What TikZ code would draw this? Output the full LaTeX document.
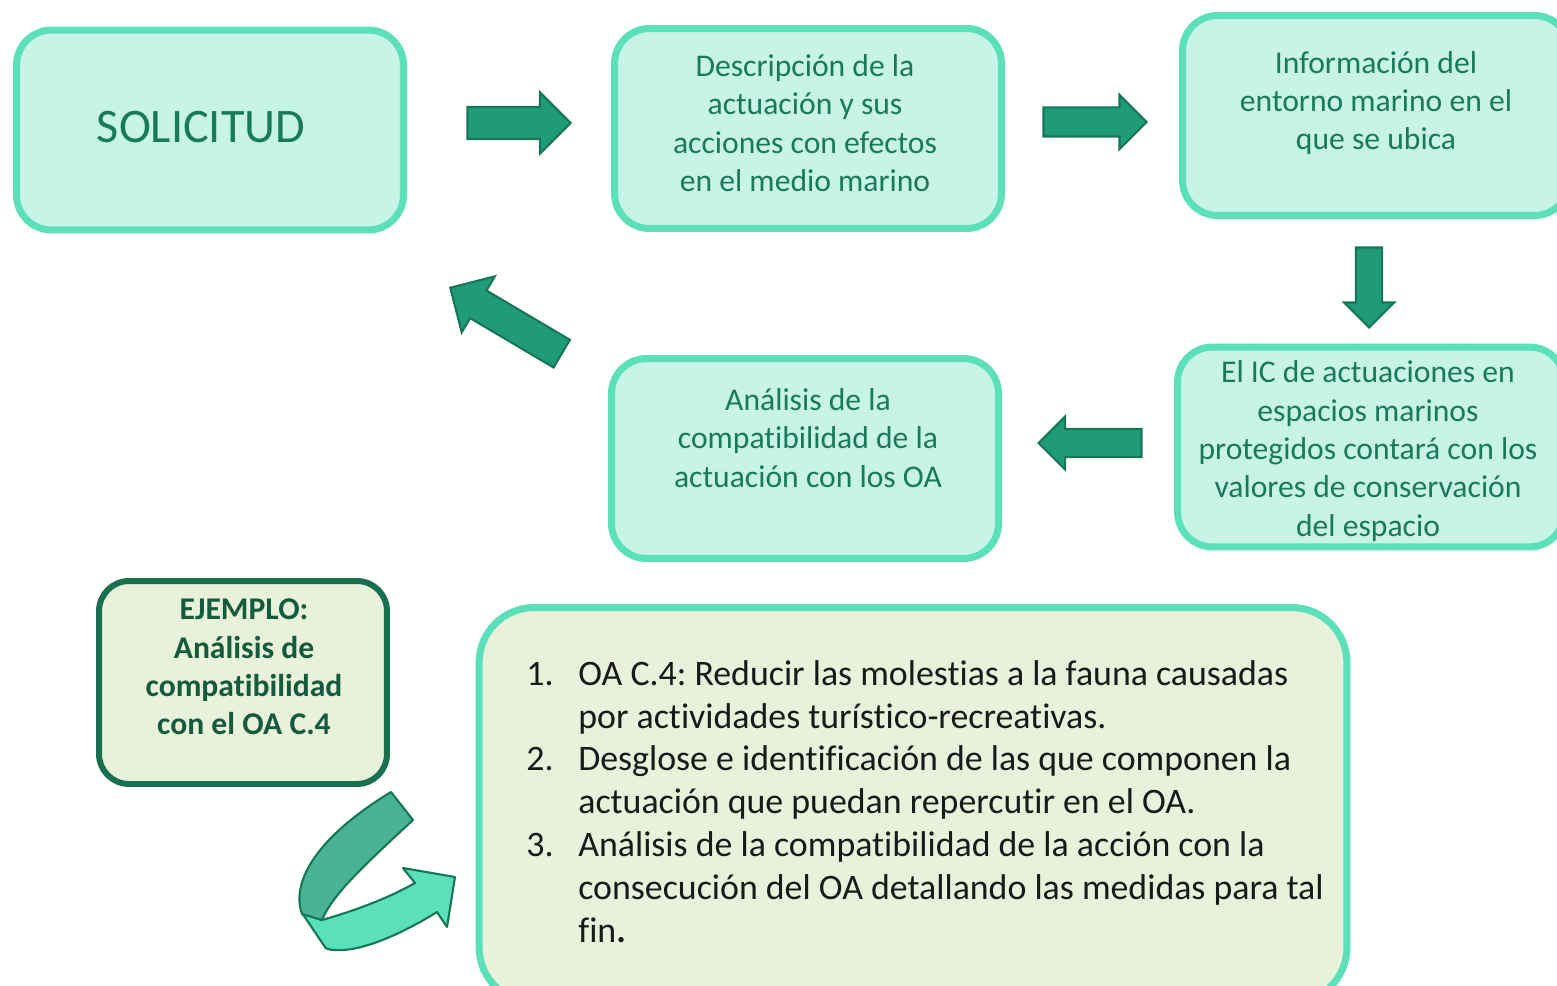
\documentclass[tikz,border=0pt]{standalone}
\usepackage{fontspec}
\setmainfont{Carlito}[Ligatures=NoCommon]
\usepackage{xcolor}
\usetikzlibrary{shapes.arrows, positioning}
\definecolor{BoxLine}{HTML}{5CE0BA}
\definecolor{BoxFill}{HTML}{C7F4E6}
\definecolor{TextGreen}{HTML}{187A5A}
\definecolor{ArrowFill}{HTML}{1F9B78}
\definecolor{ArrowLine}{HTML}{17765A}
\definecolor{ExLine}{HTML}{18704F}
\definecolor{ExFill}{HTML}{E8F2DA}
\definecolor{ExText}{HTML}{145A3C}
\definecolor{TurnDark}{HTML}{48B494}
\frenchspacing

\begin{document}
\begin{tikzpicture}[x=0.02cm, y=-0.02cm,
    box/.style={
      rounded corners=0.7cm, minimum width=7.74cm, minimum height=4.0cm,
      line width=4pt, draw=BoxLine, fill=BoxFill, inner sep=0pt
    },
    boxtext/.style={align=center, text=TextGreen, font=\fontsize{18}{21.8}\selectfont},
    flow/.style={
      single arrow, draw=ArrowLine, fill=ArrowFill, line width=1.2pt, anchor=tip,
      inner xsep=0pt, inner ysep=0.3cm, minimum height=2.06cm, minimum width=1.18cm,
      single arrow head extend=0.29cm
    }
  ]
    \useasboundingbox (0,0) rectangle (1557,986);
    \clip (0,0) rectangle (1557,986);

    % flow boxes
    \node[box] (sol) at (210,130) {};
    \node[box] (desc) at (808,128.5) {};
    \node[box] (info) at (1376,115.5) {};
    \node[box] (ic) at (1371,447) {};
    \node[box] (ana) at (805,458.5) {};

    \node[boxtext, font=\fontsize{27.4}{32}\selectfont] (solt) at (201,127) {SOLICITUD};
    \node[boxtext] (desct) at (805,123) {Descripción de la\\actuación y sus\\acciones con efectos\\en el medio marino};
    \node[boxtext] (infot) at (1376,103) {Información del\\entorno marino en el\\que se ubica};
    \node[boxtext] (ict) at (1368,451) {El IC de actuaciones en\\espacios marinos\\protegidos contará con los\\valores de conservación\\del espacio};
    \node[boxtext] (anat) at (808,438) {Análisis de la\\compatibilidad de la\\actuación con los OA};

    % arrows between steps (placed by their tips)
    \node[flow] (a1) at (572,123) {};
    \node[flow, inner ysep=0.27cm, minimum width=1.04cm, single arrow head extend=0.25cm] (a2) at (1148,122) {};
    \node[flow, rotate=-90, inner ysep=0.24cm, minimum height=1.6cm, minimum width=0.96cm, single arrow head extend=0.24cm] (a3) at (1369,329) {};
    \node[flow, rotate=180, inner ysep=0.26cm, minimum width=1.02cm, single arrow head extend=0.25cm] (a4) at (1037,443) {};
    \node[flow, rotate=149.4, minimum height=2.59cm, minimum width=1.26cm, single arrow head extend=0.33cm] (a5) at (449,287) {};

    % example
    \node[draw=ExLine, fill=ExFill, line width=3.4pt, rounded corners=0.6cm,
      minimum width=5.76cm, minimum height=4.06cm] (ej) at (243,682.5) {};
    \node[align=center, text=ExText, font=\fontsize{18}{21.8}\selectfont\bfseries] (ejt) at (244,667)
      {EJEMPLO:\\Análisis de\\compatibilidad\\con el OA C.4};

    \node[draw=BoxLine, fill=ExFill, line width=4pt, rounded corners=1.1cm,
      minimum width=17.36cm, minimum height=7.9cm] (lista) at (913,805) {};
    \node[align=left, anchor=north west, inner sep=0pt, text=black!90,
      font=\fontsize{20.4}{24.4}\selectfont] (listat) at (526,660) {%
      \makebox[1.04cm][l]{1.}OA C.4: Reducir las molestias a la fauna causadas\\
      \hspace*{1.04cm}por actividades turístico-recreativas.\\
      \makebox[1.04cm][l]{2.}Desglose e identificación de las que componen la\\
      \hspace*{1.04cm}actuación que puedan repercutir en el OA.\\
      \makebox[1.04cm][l]{3.}Análisis de la compatibilidad de la acción con la\\
      \hspace*{1.04cm}consecución del OA detallando las medidas para tal\\
      \hspace*{1.04cm}fin\textbf{.}};

    % turning arrow
    \fill[BoxLine, draw=ArrowLine, line width=1.2pt, line join=round]
      (302,913) -- (322,920) .. controls (350,912) and (385,900) .. (415,883)
      -- (403,868) -- (455,877) -- (447,927) -- (437,912)
      .. controls (400,935) and (360,952) .. (335,950)
      .. controls (328,950) and (325,948) .. (325,947) -- cycle;
    \fill[TurnDark, draw=ArrowLine, line width=1.2pt, line join=round]
      (391,792) -- (413,820) .. controls (370,860) and (333,893) .. (322,920)
      -- (302,914) .. controls (290,880) and (320,835) .. (391,792) -- cycle;
  \end{tikzpicture}
\end{document}
